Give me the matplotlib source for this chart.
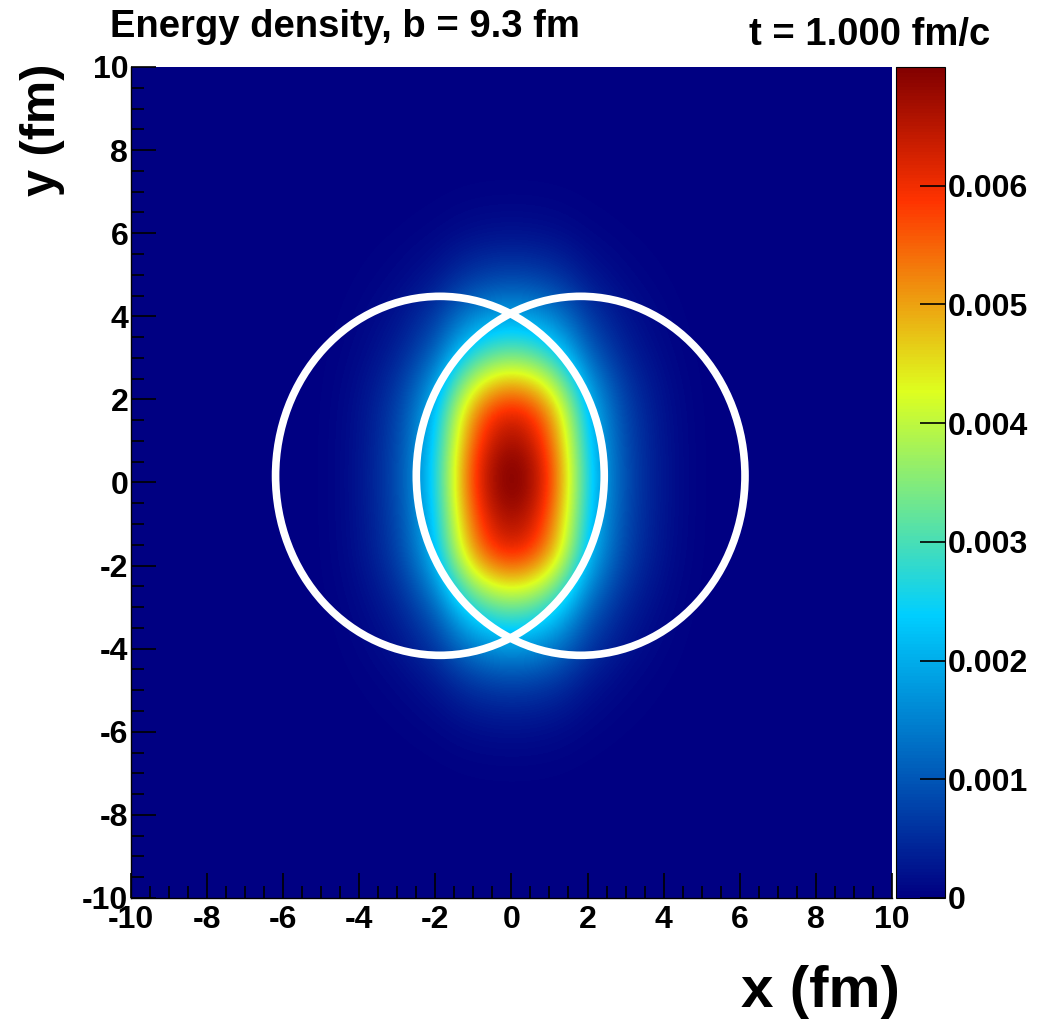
import numpy as np
import matplotlib
matplotlib.use('Agg')
import matplotlib.pyplot as plt
from matplotlib.colors import LinearSegmentedColormap
from matplotlib.patches import Circle
from matplotlib.ticker import MultipleLocator

plt.rcParams['font.family'] = ['Liberation Sans', 'DejaVu Sans']
plt.rcParams['font.weight'] = 'bold'
plt.rcParams['axes.unicode_minus'] = False

# profile of the energy density across x (at y = 0), in units of 1e-3
x_pos = np.arange(-5.5, 5.51, 0.5)
x_prof = [0.0, 0.03, 0.1, 0.25, 0.5, 0.9, 1.6, 2.6, 4.3, 5.8, 6.7, 7.0,
          6.7, 5.8, 4.3, 2.6, 1.6, 0.9, 0.5, 0.25, 0.1, 0.03, 0.0]
# relative profile along y (at x = 0)
y_pos = np.arange(-8.0, 8.01, 0.5)
y_prof = [0.0, 0.002, 0.005, 0.013, 0.028, 0.055, 0.095, 0.16, 0.25,
          0.35, 0.48, 0.63, 0.78, 0.89, 0.94, 0.98, 1.0, 0.99, 0.95,
          0.9, 0.8, 0.66, 0.5, 0.37, 0.27, 0.18, 0.11, 0.065, 0.032,
          0.015, 0.006, 0.002, 0.0]

# nuclei outlines
nuc_x = [-1.88, 1.82]
nuc_y = [0.16, 0.16]
nuc_r = 4.32

z_max = 0.00700
cbar_ticks = [0, 0.001, 0.002, 0.003, 0.004, 0.005, 0.006]
cbar_labels = ['0', '0.001', '0.002', '0.003', '0.004', '0.005', '0.006']

# ROOT rainbow palette
stops = [0.0, 0.34, 0.61, 0.84, 1.0]
reds = [0.0, 0.0, 0.87, 1.0, 0.51]
greens = [0.0, 0.81, 1.0, 0.2, 0.0]
blues = [0.51, 1.0, 0.12, 0.0, 0.0]
cmap = LinearSegmentedColormap('root', {
    'red': [(s, c, c) for s, c in zip(stops, reds)],
    'green': [(s, c, c) for s, c in zip(stops, greens)],
    'blue': [(s, c, c) for s, c in zip(stops, blues)],
}, N=255)

dens = np.outer(y_prof, np.array(x_prof) * 1e-3)

fig = plt.figure(figsize=(10.48, 10.21), dpi=100)
ax = fig.add_axes([0.125, 0.1205, 0.726, 0.8139])
cax = fig.add_axes([0.855, 0.1205, 0.0465, 0.8139])

ax.set_facecolor(cmap(0.0))
dx, dy = 0.25, 0.25
im = ax.imshow(dens, origin='lower', cmap=cmap, vmin=0, vmax=z_max,
               extent=[x_pos[0] - dx, x_pos[-1] + dx, y_pos[0] - dy, y_pos[-1] + dy],
               interpolation='bicubic', aspect='auto')
for cx, cy in zip(nuc_x, nuc_y):
    ax.add_patch(Circle((cx, cy), nuc_r, fill=False, edgecolor='white', lw=5.5))

ax.set_xlim(-10, 10)
ax.set_ylim(-10, 10)
ax.xaxis.set_major_locator(MultipleLocator(2))
ax.xaxis.set_minor_locator(MultipleLocator(0.5))
ax.yaxis.set_major_locator(MultipleLocator(2))
ax.yaxis.set_minor_locator(MultipleLocator(0.5))
ax.tick_params(which='both', direction='in', top=False, right=False, labelsize=23)
ax.tick_params(axis='x', which='major', length=18, width=1.2, pad=5)
ax.tick_params(axis='y', which='major', length=18, width=1.2, pad=2)
ax.tick_params(which='minor', length=9, width=1.2)
for s in ax.spines.values():
    s.set_linewidth(1.0)
ax.spines['top'].set_visible(False)
ax.spines['right'].set_visible(False)

cb = fig.colorbar(im, cax=cax, ticks=cbar_ticks)
cb.outline.set_linewidth(0.8)
cax.yaxis.set_tick_params(direction='in', length=18, width=1.2, labelsize=23, pad=2)
cax.set_yticklabels(cbar_labels)

fig.text(0.105, 0.9638, 'Energy density, b = 9.3 fm', fontsize=27.5,
         fontweight='bold', va='baseline', ha='left')
fig.text(0.945, 0.956, 't = 1.000 fm/c', fontsize=27.5,
         fontweight='bold', va='baseline', ha='right')
fig.text(0.859, 0.0137, 'x (fm)', fontsize=42, fontweight='bold',
         ha='right', va='baseline')
fig.text(0.041, 0.873, 'y (fm)', fontsize=35, fontweight='bold',
         ha='center', va='center', rotation=90)

fig.savefig('out.png', dpi=100)
